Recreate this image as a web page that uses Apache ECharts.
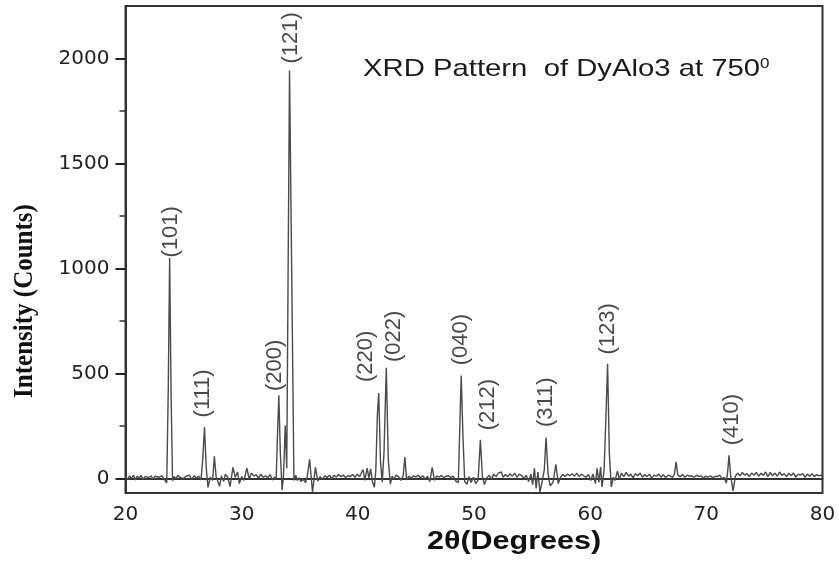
<!DOCTYPE html>
<html>
<head>
<meta charset="utf-8">
<title>XRD Pattern of DyAlo3</title>
<script src="https://cdn.jsdelivr.net/npm/echarts@6.0.0/dist/echarts.min.js"></script>
<style>
  html, body { margin: 0; padding: 0; background: #fff; }
  #chart { width: 839px; height: 563px; }
</style>
</head>
<body>
<div id="chart"></div>
<script>
// 2theta (deg), intensity (counts)
const xrdPattern = [
  [20.0, 8], [20.2, -6], [20.35, 12], [20.5, 0], [20.7, 15], [20.85, -8], [21.0, 10], [21.2, 2],
  [21.35, 14], [21.5, -5], [21.7, 9], [21.85, 18], [22.0, 3], [22.2, 12], [22.4, -4], [22.55, 10],
  [22.7, 16], [22.9, 5], [23.1, 12], [23.3, -2], [23.45, 6], [23.55, -22], [23.68, 420], [23.8, 1050],
  [23.93, 380], [24.05, -12], [24.2, 8], [24.35, -3], [24.5, 14], [24.7, 4], [24.85, 12], [25.0, -2],
  [25.2, 10], [25.35, 6], [25.5, 15], [25.7, -6], [25.9, 12], [26.1, 2], [26.3, 10], [26.5, -8],
  [26.65, 90], [26.8, 244], [26.95, 50], [27.1, -43], [27.3, 5], [27.5, -10], [27.65, 105], [27.8, 8],
  [27.95, -15], [28.1, -38], [28.25, 12], [28.45, -15], [28.6, 20], [28.8, 5], [29.0, -40], [29.25, 52],
  [29.45, 5], [29.65, 30], [29.8, -25], [30.0, 8], [30.2, -10], [30.45, 48], [30.65, -5], [30.85, 25],
  [31.05, 10], [31.25, 18], [31.45, 0], [31.65, 20], [31.85, 5], [32.05, 12], [32.25, 2], [32.45, 18],
  [32.65, -8], [32.85, 6], [32.97, -5], [33.08, 200], [33.2, 395], [33.33, 120], [33.48, -57], [33.6, 10],
  [33.75, 252], [33.88, 48], [34.12, 1943], [34.5, -10], [34.65, 15], [34.8, -10], [34.95, 2], [35.1, -15],
  [35.3, -5], [35.5, -20], [35.65, 10], [35.85, 90], [36.1, -65], [36.35, 52], [36.55, -12], [36.75, 8],
  [36.95, -5], [37.15, 12], [37.35, 4], [37.55, 15], [37.75, 0], [37.95, 14], [38.15, 6], [38.35, 18],
  [38.55, 8], [38.75, 16], [38.95, 2], [39.15, 14], [39.35, 8], [39.55, 18], [39.75, 5], [39.95, 20],
  [40.15, 8], [40.3, 15], [40.45, 42], [40.6, -10], [40.8, 48], [40.95, 2], [41.1, 45], [41.25, -15],
  [41.42, -43], [41.55, 40], [41.68, 300], [41.8, 406], [41.95, 80], [42.1, -17], [42.25, 120], [42.45, 527],
  [42.62, 90], [42.8, -28], [42.95, 10], [43.1, -5], [43.3, 15], [43.5, 8], [43.7, -10], [43.9, 10],
  [44.05, 101], [44.2, -8], [44.4, 10], [44.6, 0], [44.8, 12], [45.0, 6], [45.2, 15], [45.4, 2],
  [45.6, 12], [45.8, -4], [46.0, 10], [46.2, -15], [46.4, 52], [46.6, -10], [46.8, 12], [47.0, 5],
  [47.2, 14], [47.4, 2], [47.6, 10], [47.8, 12], [48.0, 4], [48.2, 10], [48.45, -15], [48.65, -20],
  [48.78, 250], [48.9, 490], [49.05, 200], [49.2, -15], [49.4, -29], [49.55, 8], [49.75, -20], [49.95, 5],
  [50.15, -25], [50.35, -10], [50.55, 184], [50.72, 10], [50.9, -30], [51.1, 2], [51.3, 15], [51.5, -5],
  [51.7, 20], [51.9, 8], [52.1, 25], [52.35, 30], [52.5, 5], [52.7, 18], [52.9, 8], [53.1, 22],
  [53.3, 10], [53.5, 25], [53.7, 5], [53.9, 20], [54.1, 12], [54.3, 0], [54.5, 15], [54.7, -15],
  [54.9, 20], [55.05, -30], [55.2, 48], [55.35, -48], [55.5, 30], [55.68, -65], [55.85, -20], [56.05, 40],
  [56.2, 194], [56.38, 20], [56.55, -35], [56.8, -20], [57.05, 67], [57.25, -25], [57.45, 5], [57.65, 18],
  [57.85, 8], [58.05, 20], [58.25, 12], [58.45, 22], [58.65, 10], [58.85, 25], [59.05, 8], [59.25, 20],
  [59.45, 12], [59.65, 5], [59.85, 18], [60.05, -10], [60.25, 20], [60.45, -25], [60.6, 48], [60.75, -20],
  [60.9, 54], [61.02, -41], [61.2, 40], [61.35, 280], [61.5, 546], [61.65, 120], [61.82, -41], [62.0, 5],
  [62.15, -10], [62.35, 35], [62.5, -5], [62.7, 25], [62.9, 8], [63.1, 28], [63.3, 10], [63.5, 20],
  [63.7, 2], [63.9, 22], [64.1, 12], [64.3, 25], [64.5, 5], [64.7, 18], [64.9, 8], [65.1, 20],
  [65.3, 0], [65.5, 15], [65.7, 10], [65.9, 20], [66.1, 5], [66.3, 18], [66.5, 2], [66.7, 15],
  [66.9, 10], [67.1, 5], [67.25, 20], [67.4, 78], [67.55, 15], [67.75, 8], [67.95, 18], [68.15, 5],
  [68.35, 15], [68.55, 10], [68.75, 12], [68.95, 5], [69.15, 15], [69.35, 8], [69.55, 12], [69.75, 0],
  [69.95, 10], [70.15, 5], [70.35, 12], [70.55, 2], [70.75, 10], [70.95, 8], [71.15, 15], [71.35, -2],
  [71.55, 5], [71.72, -24], [71.85, 40], [71.95, 109], [72.1, 10], [72.3, -60], [72.5, 10], [72.7, 25],
  [72.9, 12], [73.1, 28], [73.3, 15], [73.5, 22], [73.7, 8], [73.9, 25], [74.1, 15], [74.3, 28],
  [74.5, 10], [74.7, 24], [74.9, 14], [75.1, 30], [75.3, 8], [75.5, 28], [75.7, 12], [75.9, 25],
  [76.1, 10], [76.3, 30], [76.5, 14], [76.7, 22], [76.9, 8], [77.1, 24], [77.3, 12], [77.5, 26],
  [77.7, 6], [77.9, 20], [78.1, 15], [78.3, 22], [78.5, 5], [78.7, 20], [78.9, 10], [79.1, 22],
  [79.3, 8], [79.5, 18], [79.7, 12], [79.9, 15], [80.0, 10]
];

// Miller indices and where each label sits (2theta, counts at label foot)
const peakHkl = ['(101)', '(111)', '(200)', '(121)', '(220)', '(022)', '(040)', '(212)', '(311)', '(123)', '(410)'];
const peakLabelTheta = [23.92, 26.63, 32.88, 34.21, 40.73, 43.15, 48.91, 51.18, 56.18, 61.52, 72.24];
const peakLabelCounts = [1052, 290, 416, 1976, 459, 554, 538, 229, 244, 590, 157];

const majorTicks = [0, 500, 1000, 1500, 2000];
const minorTicks = [250, 750, 1250, 1750];
const xTicks = [20, 30, 40, 50, 60, 70, 80];

const chart = echarts.init(document.getElementById('chart'));

const labelPoints = peakHkl.map((h, i) => ({ name: h, value: [peakLabelTheta[i], peakLabelCounts[i]] }));

const yRange = { min: -70, max: 2250 };

chart.setOption({
  animation: false,
  backgroundColor: '#fff',
  grid: {
    left: 125.5, right: 16.5, top: 6, bottom: 70,
    show: true, borderColor: '#333', borderWidth: 2
  },
  xAxis: {
    type: 'value',
    min: xTicks[0], max: xTicks[xTicks.length - 1], interval: 10,
    axisLine: { lineStyle: { color: '#333', width: 2 } },
    axisTick: { show: false },
    splitLine: { show: false },
    axisLabel: { color: '#222', fontFamily: 'DejaVu Sans', fontSize: 20, margin: 12 }
  },
  yAxis: [{
    type: 'value',
    min: yRange.min, max: yRange.max,
    axisLine: { show: true, lineStyle: { color: '#333', width: 2 } },
    axisTick: { show: true, length: 10, customValues: majorTicks, lineStyle: { color: '#222', width: 2 } },
    splitLine: { show: false },
    axisLabel: {
      customValues: majorTicks, color: '#222', fontFamily: 'DejaVu Sans', fontSize: 20, margin: 16,
      formatter: v => String(v)
    }
  }, {
    type: 'value',
    min: yRange.min, max: yRange.max,
    position: 'left',
    axisLine: { show: false },
    axisTick: { show: true, length: 6, customValues: minorTicks, lineStyle: { color: '#333', width: 1.5 } },
    axisLabel: { show: false },
    splitLine: { show: false }
  }],
  series: [{
    type: 'line',
    data: xrdPattern,
    symbol: 'none',
    lineStyle: { color: '#4a4a4a', width: 1.4 },
    z: 3
  }, {
    type: 'scatter',
    data: labelPoints,
    symbolSize: 0,
    silent: true,
    label: {
      show: true,
      formatter: '{b}',
      position: 'top',
      distance: 0,
      rotate: 90,
      align: 'left',
      verticalAlign: 'middle',
      fontFamily: 'Liberation Sans',
      fontSize: 22,
      color: '#1a1a1a'
    },
    z: 4
  }],
  graphic: [{
    type: 'text',
    x: 363, y: 69,
    scaleX: 1.22,
    style: {
      text: '{m|XRD Pattern  of DyAlo3 at 750}{s|0}',
      verticalAlign: 'middle',
      rich: {
        m: { fontFamily: 'Liberation Sans', fontSize: 24, fill: '#1a1a1a' },
        s: { fontFamily: 'Liberation Sans', fontSize: 14, fill: '#1a1a1a', verticalAlign: 'top' }
      }
    }
  }, {
    type: 'text',
    x: 24.5, y: 301,
    rotation: Math.PI / 2,
    scaleY: 1.1,
    style: {
      text: 'Intensity (Counts)',
      font: 'bold 25px "Liberation Serif"',
      fill: '#111',
      align: 'center',
      verticalAlign: 'middle'
    }
  }, {
    type: 'text',
    x: 514, y: 542,
    scaleX: 1.22,
    style: {
      text: '2θ(Degrees)',
      font: 'bold 25px "Liberation Sans"',
      fill: '#111',
      align: 'center',
      verticalAlign: 'middle'
    }
  }]
});
</script>
</body>
</html>
